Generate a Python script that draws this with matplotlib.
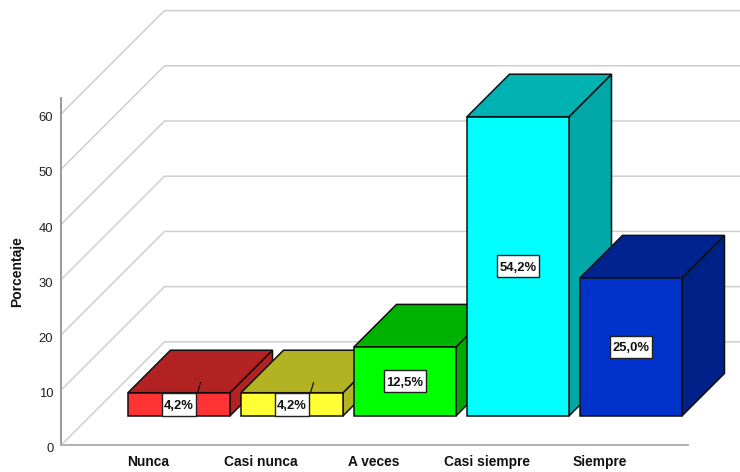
import matplotlib
matplotlib.use("Agg")
import matplotlib.pyplot as plt
from matplotlib.patches import Polygon, Rectangle
from matplotlib.transforms import ScaledTranslation

plt.rcParams['font.family'] = ['Liberation Sans', 'DejaVu Sans']

categories = ["Nunca", "Casi nunca", "A veces", "Casi siempre", "Siempre"]
values = [4.2, 4.2, 12.5, 54.2, 25.0]
labels = ["4,2%", "4,2%", "12,5%", "54,2%", "25,0%"]
front_colors = ["#FF3333", "#FFFF33", "#00FF00", "#00FFFF", "#0033CC"]
top_colors = ["#B22222", "#B2B222", "#00B200", "#00B2B2", "#002390"]
side_colors = ["#B22222", "#B2B222", "#00A800", "#00A8A8", "#002288"]
y_ticks = [0, 10, 20, 30, 40, 50, 60]

# pixel scale of the axes, used to keep the oblique projection at 45 degrees
px_x = 113.0
px_y = 5.52
left_px, right_px, base_px = 61, 740, 445.3
center0_px = 179.0


def depth(px):
    return px / px_x, px / px_y


fig = plt.figure(figsize=(7.4, 4.72), dpi=100)
ax = fig.add_axes([left_px / 740, (472 - base_px) / 472, (right_px - left_px) / 740, base_px / 472])
ax.set_xlim((left_px - center0_px) / px_x, (right_px - center0_px) / px_x)
ax.set_ylim(0, base_px / px_y)
ax.patch.set_visible(False)

# back wall lines running over the floor/side wall
wall_dx, wall_dy = depth(103.5)
x_left = ax.get_xlim()[0]
x_right = ax.get_xlim()[1]
for v in y_ticks:
    ax.plot([x_left, x_left + wall_dx, x_right], [v, v + wall_dy, v + wall_dy],
            color="#CFCFCF", lw=1.1, zorder=1, clip_on=False, solid_joinstyle="miter")

# bars: front face sits forward of the axis floor by a fixed offset
bar_w = 102 / px_x
bar_dx, bar_dy = depth(42.5)
floor_y = 29.4 / px_y
for i, v in enumerate(values):
    x0 = i - bar_w / 2
    x1 = i + bar_w / 2
    y0 = floor_y
    y1 = floor_y + v
    z = 3 + i
    front = [(x0, y0), (x1, y0), (x1, y1), (x0, y1)]
    top = [(x0, y1), (x1, y1), (x1 + bar_dx, y1 + bar_dy), (x0 + bar_dx, y1 + bar_dy)]
    side = [(x1, y0), (x1 + bar_dx, y0 + bar_dy), (x1 + bar_dx, y1 + bar_dy), (x1, y1)]
    ax.add_patch(Polygon(side, fc=side_colors[i], ec="#101010", lw=1.1, zorder=z, joinstyle="miter"))
    ax.add_patch(Polygon(top, fc=top_colors[i], ec="#101010", lw=1.1, zorder=z, joinstyle="miter"))
    ax.add_patch(Polygon(front, fc=front_colors[i], ec="#101010", lw=1.1, zorder=z, joinstyle="miter"))

    # short bars get a little leader from the label up onto the top face
    if v < 5:
        ax.plot([i + 18.5 / px_x, i + 21.5 / px_x], [y1, y1 + 10 / px_y], color="#101010", lw=0.9, zorder=z + 1)

    # label box fills the front face on the short bars
    box_w = (8 * len(labels[i]) + 2) / px_x
    box_h = v if v < 5 else 22 / px_y
    ym = y0 + v / 2
    ax.add_patch(Rectangle((i - box_w / 2, ym - box_h / 2), box_w, box_h, fc="white", ec="#202020", lw=1.0, zorder=19))
    ax.text(i, ym, labels[i], ha="center", va="center_baseline", fontsize=9.4, fontweight="bold",
            color="#111111", zorder=20)

ax.spines["top"].set_visible(False)
ax.spines["right"].set_visible(False)
ax.spines["left"].set_color("#999999")
ax.spines["bottom"].set_color("#B0B0B0")
ax.spines["left"].set_linewidth(1.4)
ax.spines["bottom"].set_linewidth(1.4)
ax.spines["left"].set_bounds(0, (base_px - 98) / px_y)
ax.spines["bottom"].set_bounds(x_left, (688 - center0_px) / px_x)

ax.set_yticks(y_ticks)
ax.tick_params(axis="y", length=0, pad=5.5, labelsize=9.4, labelcolor="#222222")
shift = ScaledTranslation(0, -2.5 / 100, fig.dpi_scale_trans)
for lab in ax.get_yticklabels():
    lab.set_transform(lab.get_transform() + shift)

# category names sit left of the bars, under the front edge of the floor
ax.set_xticks([i - 31 / px_x for i in range(len(categories))])
ax.set_xticklabels(categories, fontweight="bold", fontsize=9.9, color="#111111")
ax.tick_params(axis="x", length=0, pad=7)

ax.set_ylabel("Porcentaje", fontweight="bold", fontsize=10, color="#111111")
ax.yaxis.set_label_coords((24 - left_px) / (right_px - left_px), (base_px - 272) / base_px)

fig.savefig("out.png", dpi=100)
